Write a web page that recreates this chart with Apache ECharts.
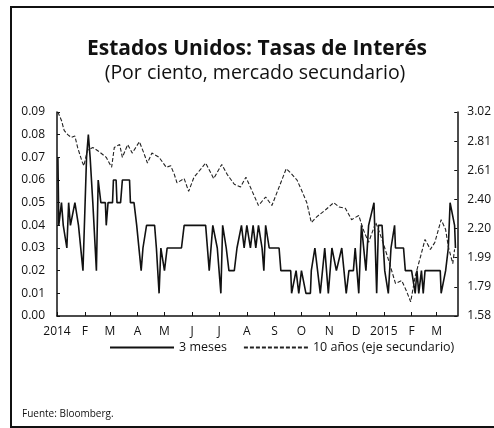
<!DOCTYPE html>
<html>
<head>
<meta charset="utf-8">
<script src="https://cdn.jsdelivr.net/npm/echarts@6/dist/echarts.min.js"></script>
<style>
  html, body { margin: 0; padding: 0; background: #fff; overflow: hidden; width: 494px; height: 428px; }
  .frame {
    position: absolute; left: 10px; top: 6px; width: 484px; height: 418px;
    border-left: 2px solid #111; border-top: 2px solid #111; border-bottom: 2px solid #111;
  }
  #chart { position: absolute; left: 0; top: 0; width: 494px; height: 428px; }
</style>
</head>
<body>
<div class="frame"></div>
<div id="chart"></div>
<script>
// Tasa a 3 meses (eje principal)
const fechas3m = [
  '2014-01-02','2014-01-03','2014-01-06','2014-01-08','2014-01-12','2014-01-14','2014-01-16','2014-01-18',
  '2014-01-21','2014-01-23','2014-01-25','2014-01-30','2014-02-03','2014-02-05','2014-02-07','2014-02-10',
  '2014-02-14','2014-02-16','2014-02-19','2014-02-24','2014-02-25','2014-02-27','2014-03-04','2014-03-05',
  '2014-03-08','2014-03-09','2014-03-13','2014-03-15','2014-03-23','2014-03-24','2014-03-28','2014-03-31',
  '2014-04-05','2014-04-07','2014-04-11','2014-04-20','2014-04-22','2014-04-25','2014-04-27','2014-05-01',
  '2014-05-04','2014-05-20','2014-05-23','2014-06-16','2014-06-20','2014-06-24','2014-06-29','2014-07-03',
  '2014-07-05','2014-07-09','2014-07-12','2014-07-18','2014-07-21','2014-07-26','2014-07-29','2014-08-01',
  '2014-08-05','2014-08-08','2014-08-11','2014-08-14','2014-08-18','2014-08-20','2014-08-22','2014-08-26',
  '2014-08-28','2014-09-06','2014-09-08','2014-09-19','2014-09-20','2014-09-25','2014-09-28','2014-10-01',
  '2014-10-06','2014-10-11','2014-10-12','2014-10-16','2014-10-19','2014-10-22','2014-10-27','2014-10-31',
  '2014-11-04','2014-11-09','2014-11-15','2014-11-20','2014-11-23','2014-11-28','2014-11-30','2014-12-04',
  '2014-12-07','2014-12-12','2014-12-15','2014-12-21','2014-12-24','2014-12-26','2014-12-30','2015-01-02',
  '2015-01-06','2015-01-09','2015-01-13','2015-01-14','2015-01-23','2015-01-25','2015-02-01','2015-02-03',
  '2015-02-05','2015-02-07','2015-02-09','2015-02-12','2015-02-14','2015-02-16','2015-03-05','2015-03-06',
  '2015-03-11','2015-03-14','2015-03-16','2015-03-18','2015-03-21','2015-03-22'
];
const valores3m = [
  0.07,0.04,0.05,0.04,0.03,0.05,0.04,0.04,
  0.05,0.05,0.04,0.02,0.07,0.08,0.07,0.05,
  0.02,0.06,0.05,0.05,0.04,0.05,0.05,0.06,
  0.06,0.05,0.05,0.06,0.06,0.05,0.05,0.04,
  0.02,0.03,0.04,0.04,0.03,0.01,0.03,0.02,
  0.03,0.03,0.04,0.04,0.02,0.04,0.03,0.01,
  0.04,0.03,0.02,0.02,0.03,0.04,0.03,0.04,
  0.03,0.04,0.03,0.04,0.03,0.02,0.04,0.03,
  0.03,0.03,0.02,0.02,0.01,0.02,0.01,0.02,
  0.01,0.01,0.02,0.03,0.02,0.01,0.03,0.01,
  0.03,0.02,0.03,0.01,0.02,0.02,0.03,0.01,
  0.04,0.02,0.04,0.05,0.01,0.04,0.04,0.02,
  0.01,0.03,0.04,0.03,0.03,0.02,0.02,0.02,
  0.01,0.02,0.01,0.02,0.01,0.02,0.02,0.01,
  0.02,0.03,0.05,0.05,0.04,0.03
];

// Bono a 10 años (eje secundario)
const fechas10a = [
  '2014-01-02','2014-01-06','2014-01-09','2014-01-13','2014-01-17','2014-01-21','2014-01-24','2014-01-29',
  '2014-01-31','2014-02-04','2014-02-10','2014-02-17','2014-02-25','2014-03-03','2014-03-06','2014-03-12',
  '2014-03-15','2014-03-21','2014-03-26','2014-04-03','2014-04-08','2014-04-12','2014-04-17','2014-04-25',
  '2014-05-03','2014-05-08','2014-05-12','2014-05-15','2014-05-23','2014-05-28','2014-06-03','2014-06-11',
  '2014-06-16','2014-06-25','2014-07-04','2014-07-10','2014-07-18','2014-07-25','2014-07-31','2014-08-07',
  '2014-08-14','2014-08-22','2014-08-29','2014-09-06','2014-09-14','2014-09-19','2014-09-26','2014-10-01',
  '2014-10-07','2014-10-12','2014-10-18','2014-10-28','2014-11-06','2014-11-12','2014-11-19','2014-11-26',
  '2014-12-04','2014-12-09','2014-12-15','2014-12-23','2014-12-30','2015-01-06','2015-01-14','2015-01-21',
  '2015-01-26','2015-01-31','2015-02-05','2015-02-11','2015-02-16','2015-02-22','2015-02-27','2015-03-06',
  '2015-03-11','2015-03-14','2015-03-19','2015-03-21'
];
const valores10a = [
  3.02,2.96,2.89,2.86,2.84,2.85,2.77,2.67,
  2.64,2.75,2.77,2.74,2.70,2.63,2.77,2.79,
  2.70,2.79,2.73,2.81,2.73,2.66,2.73,2.70,
  2.63,2.64,2.58,2.52,2.55,2.46,2.56,2.62,
  2.66,2.55,2.65,2.58,2.51,2.49,2.56,2.46,
  2.36,2.42,2.36,2.49,2.62,2.59,2.54,2.47,
  2.38,2.24,2.28,2.33,2.38,2.35,2.34,2.26,
  2.29,2.19,2.10,2.24,2.12,1.98,1.81,1.83,
  1.76,1.68,1.86,2.00,2.12,2.05,2.10,2.26,
  2.19,2.07,1.95,2.05
];

const etiquetasMes = ['', 'F', 'M', 'A', 'M', 'J', 'J', 'A', 'S', 'O', 'N', 'D'];
const etiquetasDer = ['1.58', '1.79', '1.99', '2.20', '2.40', '2.61', '2.81', '3.02'];
const minDer = 1.58, pasoDer = (3.02 - 1.58) / 7;

const fuente = "'Open Sans', 'Noto Sans', sans-serif";
const chart = echarts.init(document.getElementById('chart'));
const dia = 24 * 3600 * 1000;

chart.setOption({
  backgroundColor: 'transparent',
  animation: false,
  textStyle: { fontFamily: fuente, color: '#111' },
  title: [
    {
      text: 'Estados Unidos: Tasas de Interés',
      left: 252, top: 34, textAlign: 'center',
      textStyle: { fontSize: 21, fontWeight: 'bold', color: '#111', fontFamily: fuente }
    },
    {
      text: '(Por ciento, mercado secundario)',
      left: 250, top: 58, textAlign: 'center',
      textStyle: { fontSize: 19.5, fontWeight: 'normal', color: '#111', fontFamily: fuente }
    },
    {
      text: 'Fuente: Bloomberg.',
      left: 17, top: 404,
      textStyle: { fontSize: 10, fontWeight: 'normal', color: '#111', fontFamily: fuente }
    }
  ],
  legend: {
    top: 336, left: 104,
    itemWidth: 64, itemHeight: 8, itemGap: 16,
    itemStyle: { opacity: 0 },
    textStyle: { fontSize: 12.5, color: '#111', fontFamily: fuente },
    data: ['3 meses', '10 años (eje secundario)']
  },
  grid: { left: 57, right: 34, top: 112, bottom: 112 },
  xAxis: {
    type: 'time',
    min: '2014-01-01', max: '2015-03-24',
    minInterval: 28 * dia, maxInterval: 31 * dia,
    axisLine: { lineStyle: { color: '#111', width: 1.5 } },
    axisTick: { show: true, inside: true, length: 4, lineStyle: { color: '#111' } },
    splitLine: { show: false },
    axisLabel: {
      margin: 10, fontSize: 12, color: '#111', showMaxLabel: false,
      formatter: function (v) {
        const d = new Date(v);
        return d.getMonth() === 0 ? String(d.getFullYear()) : etiquetasMes[d.getMonth()];
      }
    }
  },
  yAxis: [
    {
      type: 'value', min: 0, max: 0.09, interval: 0.01,
      axisLine: { show: true, lineStyle: { color: '#111', width: 1.5 } },
      axisTick: { show: true, inside: true, length: 3, lineStyle: { color: '#111' } },
      splitLine: { show: false },
      axisLabel: { margin: 12, fontSize: 12, color: '#111', formatter: v => v.toFixed(2) }
    },
    {
      type: 'value', min: 0, max: 7, interval: 1, position: 'right',
      axisLine: { show: true, lineStyle: { color: '#111', width: 1.5 } },
      axisTick: { show: true, inside: true, length: 3, lineStyle: { color: '#111' } },
      splitLine: { show: false },
      axisLabel: { margin: 10, fontSize: 12, color: '#111', formatter: v => etiquetasDer[v] }
    }
  ],
  series: [
    {
      name: '3 meses',
      type: 'line',
      symbol: 'none',
      data: fechas3m.map((f, i) => [f, valores3m[i]]),
      lineStyle: { color: '#111', width: 1.6 },
      itemStyle: { color: '#111' }
    },
    {
      name: '10 años (eje secundario)',
      type: 'line',
      yAxisIndex: 1,
      symbol: 'none',
      data: fechas10a.map((f, i) => [f, (valores10a[i] - minDer) / pasoDer]),
      lineStyle: { color: '#222', width: 1.1, type: [4, 2] },
      itemStyle: { color: '#222' }
    }
  ]
});
</script>
</body>
</html>
